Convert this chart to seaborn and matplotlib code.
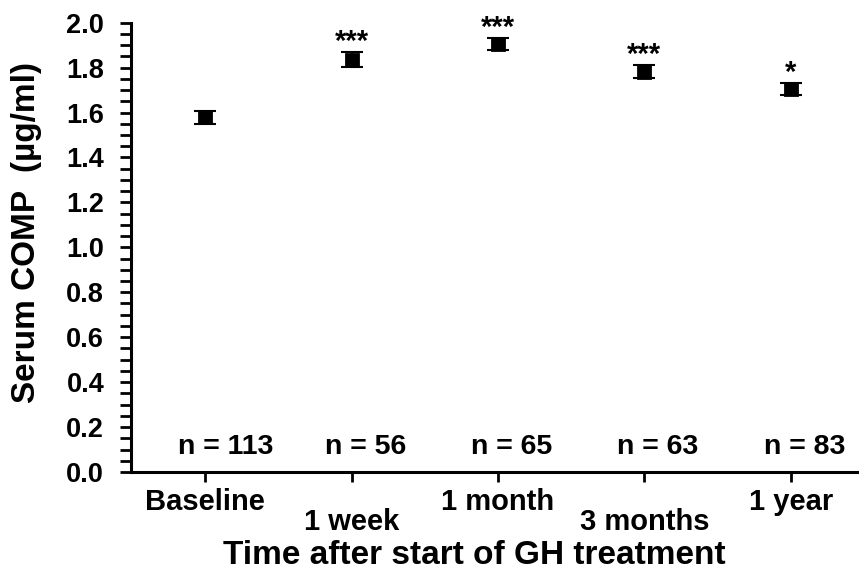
import numpy as np
import pandas as pd
import matplotlib
matplotlib.use("Agg")
import matplotlib.pyplot as plt
import matplotlib.transforms as mtransforms
from matplotlib.ticker import MultipleLocator, FormatStrFormatter
import seaborn as sns

# values
timepoints = ["Baseline", "1 week", "1 month", "3 months", "1 year"]
comp_mean = [1.578, 1.836, 1.906, 1.782, 1.704]
comp_sem = [0.030, 0.033, 0.027, 0.030, 0.026]
n_labels = ["n = 113", "n = 56", "n = 65", "n = 63", "n = 83"]
sig_labels = ["", "***", "***", "***", "*"]

sns.set_style("ticks", {"axes.edgecolor": "black", "xtick.color": "black",
                        "ytick.color": "black", "text.color": "black",
                        "axes.labelcolor": "black"})
plt.rcParams['font.family'] = ['Liberation Sans', 'DejaVu Sans']
plt.rcParams['font.weight'] = 'bold'

df = pd.DataFrame({"time": timepoints, "comp": comp_mean})

fig = plt.figure(figsize=(8.59, 5.76), dpi=100)
ax = fig.add_axes([0.152, 0.1806, 0.847, 0.78])

# squares + SEM bars
sns.pointplot(data=df, x="time", y="comp", order=timepoints, linestyle="none",
              marker="s", markersize=8.6, color="black", errorbar=None, ax=ax)
ax.errorbar(range(len(timepoints)), comp_mean, yerr=comp_sem, fmt="none",
            ecolor="black", elinewidth=1.5, capsize=8, capthick=1.5)

# significance stars
for i, s in enumerate(sig_labels):
    if s:
        ax.annotate(s, xy=(i, comp_mean[i] + comp_sem[i]), xytext=(0, 1.5),
                    textcoords="offset points", ha="center", va="baseline",
                    fontsize=21, fontweight="bold")

# group sizes
for i, lab in enumerate(n_labels):
    ax.text(i - 0.185, 0.11, lab, ha="left", va="center", fontsize=20.5,
            fontweight="bold")

ax.set_ylim(0, 2.0)
ax.set_xlim(-0.51, 4.46)
ax.yaxis.set_major_locator(MultipleLocator(0.2))
ax.yaxis.set_minor_locator(MultipleLocator(0.05))
ax.yaxis.set_major_formatter(FormatStrFormatter("%.1f"))

sns.despine(ax=ax)
for sp in ["left", "bottom"]:
    ax.spines[sp].set_linewidth(2.2)

ax.tick_params(axis="y", which="major", length=8, width=2, labelsize=19.5, pad=11)
ax.tick_params(axis="y", which="minor", length=8, width=2)
ax.tick_params(axis="x", which="major", length=7.5, width=2, labelsize=21, pad=4)

ax.set_xlabel("Time after start of GH treatment", fontsize=24, fontweight="bold")
ax.set_ylabel("Serum COMP  (\u00b5g/ml)", fontsize=24, fontweight="bold")
ax.xaxis.set_label_coords(0.472, -0.152)
ax.yaxis.set_label_coords(-0.122, 0.534)

# stagger the x tick labels
ticks = ax.xaxis.get_major_ticks()
shift = mtransforms.ScaledTranslation(0, -0.2, fig.dpi_scale_trans)
for i in [1, 3]:
    lab = ticks[i].label1
    lab.set_transform(lab.get_transform() + shift)

fig.savefig("out.png", dpi=100)
